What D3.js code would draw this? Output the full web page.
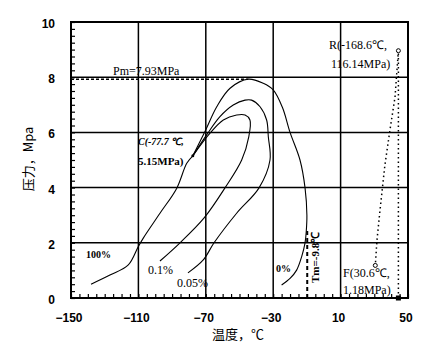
<!DOCTYPE html>
<html><head><meta charset="utf-8">
<script src="https://cdn.jsdelivr.net/npm/d3@7"></script>
<style>body{margin:0;background:#fff}svg{display:block}</style>
</head><body>
<svg id="c" width="447" height="356"></svg>
<script>
// ---- data ----
const xTicks = [-150, -110, -70, -30, 10, 50];
const yTicks = [0, 2, 4, 6, 8, 10];
// 100% (bubble) line, from low pressure to critical point C
const liq100X = [-138.1, -126.9, -116.0, -110.1, -107.1, -97.2, -87.3, -81.3, -77.7];
const liq100Y = [0.50, 0.83, 1.20, 1.86, 2.17, 3.07, 3.97, 4.88, 5.15];
// 0% (dew) line, from C over the cricondenbar down to low pressure
const dew0X = [-77.7, -70.5, -63.5, -55.6, -44.8, -35.9, -30.0, -24.5, -20.0, -14.1, -11.1, -10.0, -10.4, -11.1, -13.1, -16.1, -20.0, -25.0];
const dew0Y = [5.15, 6.03, 6.93, 7.60, 7.93, 7.78, 7.54, 6.90, 6.00, 5.00, 3.99, 3.00, 2.40, 2.00, 1.50, 1.01, 0.71, 0.47];
// 0.05% line
const q005X = [-80.6, -71.5, -65.1, -51.7, -38.4, -31.9, -32.9, -33.9, -37.8, -42.8, -46.7, -53.7, -61.6, -69.5, -77.7];
const q005Y = [0.91, 1.38, 2.00, 3.07, 3.99, 5.00, 5.84, 6.45, 6.93, 7.17, 7.17, 6.99, 6.57, 5.91, 5.15];
// 0.1% line
const q01X = [-97.2, -85.3, -71.0, -58.6, -48.7, -44.5, -43.8, -46.7, -51.7, -59.6, -67.5, -77.7];
const q01Y = [1.34, 2.00, 2.90, 3.99, 5.00, 5.84, 6.45, 6.63, 6.63, 6.45, 5.97, 5.15];
// R-F line
const rfX = [44.1, 42.3, 39.3, 36.3, 33.4, 31.6, 30.6];
const rfY = [8.80, 7.28, 6.09, 4.82, 3.19, 2.10, 1.18];
const vertX = 44.3, vertTop = 8.9;
const pm = 7.93, pmT = -44.8;
const tm = -9.8, tmTop = 2.45;
const pointC = [-77.7, 5.15], pointF = [30.6, 1.18], pointR = [44.3, 8.96];

// ---- drawing ----
const svg = d3.select('#c');
const x = d3.scaleLinear().domain([-150, 50]).range([71, 408]);
const y = d3.scaleLinear().domain([0, 10]).range([298, 22]);
const zip = (a, b) => a.map((v, i) => [v, b[i]]);
const line = d3.line().x(d => x(d[0])).y(d => y(d[1])).curve(d3.curveCatmullRom.alpha(0.5));

// grid
const g = svg.append('g');
g.selectAll('.vg').data(xTicks.slice(1, -1)).join('line')
  .attr('x1', d => x(d)).attr('x2', d => x(d)).attr('y1', y(0)).attr('y2', y(10))
  .attr('stroke', '#000').attr('stroke-width', 1.5);
g.selectAll('.hg').data(yTicks.slice(1, -1)).join('line')
  .attr('y1', d => y(d)).attr('y2', d => y(d)).attr('x1', x(-150)).attr('x2', x(50))
  .attr('stroke', '#000').attr('stroke-width', 1.5);

// axes with inward minor ticks
const xAxis = d3.axisBottom(x).tickValues(d3.range(-150, 50.1, 5)).tickSize(-4).tickFormat('');
svg.append('g').attr('transform', `translate(0,${y(0)})`).call(xAxis)
  .call(a => a.select('.domain').remove())
  .call(a => a.selectAll('line').attr('stroke-width', 1.2));
const yAxis = d3.axisLeft(y).tickValues(d3.range(0, 10.01, 0.25)).tickSize(-4).tickFormat('');
svg.append('g').attr('transform', `translate(${x(-150)},0)`).call(yAxis)
  .call(a => a.select('.domain').remove())
  .call(a => a.selectAll('line').attr('stroke-width', 1.2));

// frame
svg.append('rect').attr('x', x(-150)).attr('y', y(10)).attr('width', x(50) - x(-150)).attr('height', y(0) - y(10))
  .attr('fill', 'none').attr('stroke', '#000').attr('stroke-width', 2);

// tick labels
const fmt = d => String(d).replace('-', '\u2212');
svg.selectAll('.xl').data(xTicks).join('text')
  .attr('x', d => x(d) - 2).attr('y', 322).attr('text-anchor', 'middle')
  .attr('font-family', 'Liberation Sans').attr('font-size', 12).attr('font-weight', 'bold').text(fmt);
svg.selectAll('.yl').data(yTicks).join('text')
  .attr('x', 55).attr('y', d => y(d) + 6).attr('text-anchor', 'end')
  .attr('font-family', 'Liberation Sans').attr('font-size', 12).attr('font-weight', 'bold').text(fmt);

// axis titles
svg.append('text').attr('x', 238).attr('y', 339).attr('text-anchor', 'middle')
  .attr('font-family', 'Noto Sans CJK SC').attr('font-size', 13).text('温度，℃');
svg.append('text').attr('transform', 'translate(33,159) rotate(-90)').attr('text-anchor', 'middle')
  .attr('font-family', 'Noto Sans CJK SC').attr('font-size', 13).text('压力，Mpa');

// curves
const curves = [zip(liq100X, liq100Y), zip(dew0X, dew0Y), zip(q005X, q005Y), zip(q01X, q01Y)];
svg.selectAll('.cv').data(curves).join('path')
  .attr('d', line).attr('fill', 'none').attr('stroke', '#000').attr('stroke-width', 1.1);

// Pm dashed
svg.append('line').attr('x1', x(-150)).attr('x2', x(pmT)).attr('y1', y(pm)).attr('y2', y(pm))
  .attr('stroke', '#000').attr('stroke-width', 1.5).attr('stroke-dasharray', '3,2');
// Tm dashed
svg.append('line').attr('x1', x(tm)).attr('x2', x(tm)).attr('y1', y(0)).attr('y2', y(tmTop))
  .attr('stroke', '#000').attr('stroke-width', 2).attr('stroke-dasharray', '4,3');
// R-F dotted
svg.append('path').attr('d', d3.line().x(d => x(d[0])).y(d => y(d[1]))(zip(rfX, rfY)))
  .attr('fill', 'none').attr('stroke', '#000').attr('stroke-width', 1.5).attr('stroke-dasharray', '1.5,3');
svg.append('line').attr('x1', x(vertX)).attr('x2', x(vertX)).attr('y1', y(0)).attr('y2', y(vertTop))
  .attr('stroke', '#000').attr('stroke-width', 1.5).attr('stroke-dasharray', '1.5,3');

// markers
svg.append('circle').attr('cx', x(pointF[0])).attr('cy', y(pointF[1])).attr('r', 2)
  .attr('fill', '#fff').attr('stroke', '#000').attr('stroke-width', 1);
svg.append('circle').attr('cx', x(pointR[0])).attr('cy', y(pointR[1])).attr('r', 2)
  .attr('fill', '#fff').attr('stroke', '#000').attr('stroke-width', 1);
svg.append('circle').attr('cx', x(pointC[0])).attr('cy', y(pointC[1])).attr('r', 1.5).attr('fill', '#000');
svg.append('rect').attr('x', x(vertX) - 2.5).attr('y', y(0) - 2.5).attr('width', 5).attr('height', 5).attr('fill', '#000');

// annotations
const ann = (tx, ty, s, size, weight, style) => svg.append('text').attr('x', tx).attr('y', ty)
  .attr('font-family', 'Liberation Serif').attr('font-size', size).attr('font-weight', weight || 'normal')
  .attr('font-style', style || 'normal').text(s);
ann(113, 75, 'Pm=7.93MPa', 12);
ann(329, 49, 'R(-168.6℃,', 12);
ann(331, 68, '116.14MPa)', 12);
ann(138, 145, 'C(-77.7 ℃,', 10, 'bold', 'italic');
ann(138, 165, '5.15MPa)', 11, 'bold');
ann(86, 258, '100%', 10, 'bold');
ann(148, 274, '0.1%', 12);
ann(177, 287, '0.05%', 12);
ann(276, 272, '0%', 10, 'bold');
ann(343, 277, 'F(30.6℃,', 12);
ann(343, 294, '1.18MPa)', 12);
svg.append('text').attr('transform', 'translate(319,283) rotate(-90)')
  .attr('font-family', 'Liberation Serif').attr('font-size', 11).attr('font-weight', 'bold').text('Tm=-9.8℃');
</script>
</body></html>
